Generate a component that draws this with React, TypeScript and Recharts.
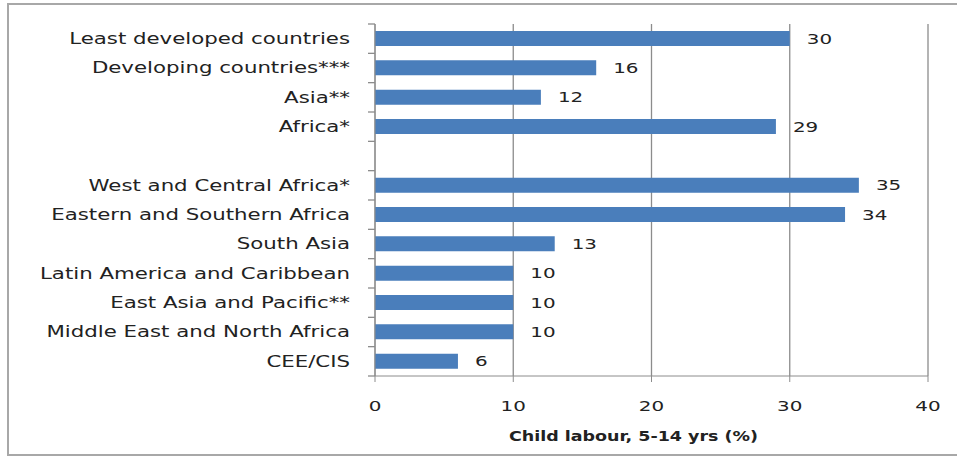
import React from "react";
import {
  BarChart,
  Bar,
  XAxis,
  YAxis,
  CartesianGrid,
  LabelList,
} from "recharts";

// ── Data ──────────────────────────────────────────────────────────────────────

const REGIONS = [
  "Least developed countries",
  "Developing countries***",
  "Asia**",
  "Africa*",
  "",
  "West and Central Africa*",
  "Eastern and Southern Africa",
  "South Asia",
  "Latin America and Caribbean",
  "East Asia and Pacific**",
  "Middle East and North Africa",
  "CEE/CIS",
];

const CHILD_LABOUR = [30, 16, 12, 29, null, 35, 34, 13, 10, 10, 10, 6];

const X_TICKS = [0, 10, 20, 30, 40];

const X_TITLE = "Child labour, 5-14 yrs (%)";

const data = REGIONS.map((name, i) => ({ name, value: CHILD_LABOUR[i] }));

// ── Style ─────────────────────────────────────────────────────────────────────

const BAR_BLUE = "#4a7ebb";
const GRID_GREY = "#8c8c8c";
const TEXT = "#222";
const FONT = "'DejaVu Sans', Verdana, sans-serif";
const STRETCH = 1.42;

// stretched text, like the wide look of the source image
function WideText({ x, y, anchor, children, size = 15, stretch = STRETCH, bold = false }: any) {
  return (
    <g transform={`translate(${x},${y}) scale(${stretch},1)`}>
      <text
        x={0}
        y={0}
        dy="0.36em"
        textAnchor={anchor}
        fontFamily={FONT}
        fontSize={size}
        fontWeight={bold ? 700 : 400}
        fill={TEXT}
      >
        {children}
      </text>
    </g>
  );
}

// category tick: label plus tick marks on band boundaries
function CategoryTick(props: any) {
  const { x, y, payload, index, visibleTicksCount } = props;
  const half = payload.offset ?? 14.7;
  const axisX = x + 18;
  const last = index === visibleTicksCount - 1;
  return (
    <g>
      <line x1={axisX - 7} x2={axisX} y1={y - half} y2={y - half} stroke={GRID_GREY} strokeWidth={1.3} />
      {last && (
        <line x1={axisX - 7} x2={axisX} y1={y + half} y2={y + half} stroke={GRID_GREY} strokeWidth={1.3} />
      )}
      <WideText x={x - 7} y={y} anchor="end">
        {payload.value}
      </WideText>
    </g>
  );
}

function ValueTick(props: any) {
  const { x, y, payload } = props;
  return (
    <WideText x={x} y={y + 22} anchor="middle" size={14}>
      {payload.value}
    </WideText>
  );
}

function ValueLabel(props: any) {
  const { x, y, width, height, value } = props;
  if (value == null) return null;
  return (
    <WideText x={x + width + 17} y={y + height / 2} anchor="start" size={14}>
      {value}
    </WideText>
  );
}

function AxisTitle(props: any) {
  const { viewBox } = props;
  const cx = viewBox.x + viewBox.width / 2 - 18;
  return (
    <WideText x={cx} y={viewBox.y + 60} anchor="middle" size={14} stretch={1.25} bold>
      {X_TITLE}
    </WideText>
  );
}

// ── Component ─────────────────────────────────────────────────────────────────

export default function App() {
  return (
    <div style={{ position: "absolute", left: 0, top: 0, width: 957, height: 456, background: "#fff", overflow: "hidden" }}>
      <div
        style={{
          position: "absolute",
          left: 7,
          top: 3,
          width: 970,
          height: 449,
          border: "2px solid #a8a8a8",
        }}
      />
      <div style={{ position: "absolute", left: 0, top: 0 }}>
        <BarChart
          width={957}
          height={456}
          data={data}
          layout="vertical"
          margin={{ top: 24, right: 29, bottom: 0, left: 15 }}
          barCategoryGap="24%"
        >
          <CartesianGrid horizontal={false} vertical stroke={GRID_GREY} strokeWidth={1.3} />
          <XAxis
            type="number"
            domain={[0, 40]}
            ticks={X_TICKS}
            height={80}
            stroke={GRID_GREY}
            tickSize={6}
            tick={<ValueTick />}
            label={<AxisTitle />}
          />
          <YAxis
            type="category"
            dataKey="name"
            width={360}
            stroke={GRID_GREY}
            tickLine={false}
            tickSize={0}
            tickMargin={18}
            interval={0}
            tick={<CategoryTick />}
          />
          <Bar dataKey="value" fill={BAR_BLUE} isAnimationActive={false}>
            <LabelList dataKey="value" content={<ValueLabel />} />
          </Bar>
        </BarChart>
      </div>
    </div>
  );
}
